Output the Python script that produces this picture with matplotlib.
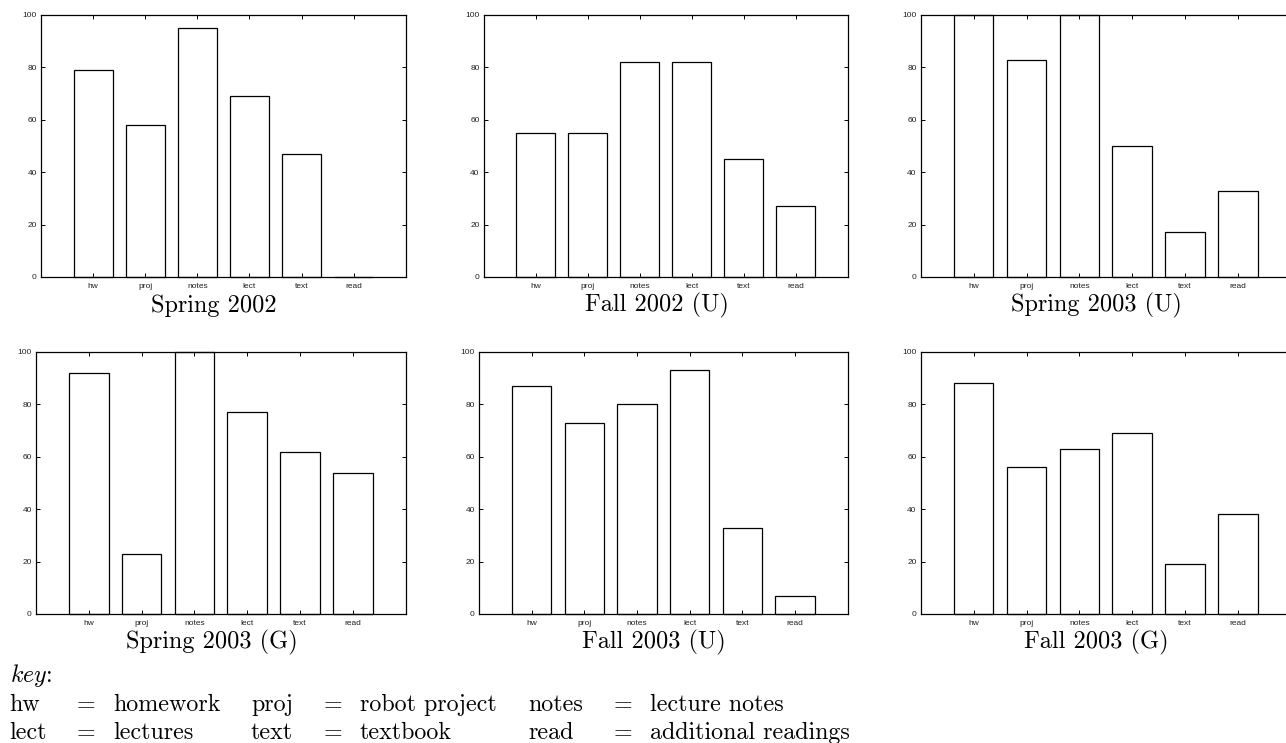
"""Six small bar panels (gnuplot look) of course-resource usage by term, plus key."""

import matplotlib
matplotlib.use("Agg")
import matplotlib.pyplot as plt

CATEGORIES = ["hw", "proj", "notes", "lect", "text", "read"]

SPRING_2002 = [79, 58, 95, 69, 47, 0]
FALL_2002_U = [55, 55, 82, 82, 45, 27]
SPRING_2003_U = [100, 83, 100, 50, 17, 33]
SPRING_2003_G = [92, 23, 100, 77, 62, 54]
FALL_2003_U = [87, 73, 80, 93, 33, 7]
FALL_2003_G = [88, 56, 63, 69, 19, 38]

TITLES = ["Spring 2002", "Fall 2002 (U)", "Spring 2003 (U)",
          "Spring 2003 (G)", "Fall 2003 (U)", "Fall 2003 (G)"]
SERIES = [SPRING_2002, FALL_2002_U, SPRING_2003_U,
          SPRING_2003_G, FALL_2003_U, FALL_2003_G]

KEY_ROWS = [
    [("hw", "homework"), ("proj", "robot project"), ("notes", "lecture notes")],
    [("lect", "lectures"), ("text", "textbook"), ("read", "additional readings")],
]

plt.rcParams["mathtext.fontset"] = "cm"

W, H = 1286, 743
fig = plt.figure(figsize=(W / 100, H / 100), dpi=100)

# panel boxes in pixels: left, right, top, bottom
boxes = [
    (41, 405.7, 15, 277), (483.7, 847.7, 15, 277), (920.7, 1291, 15, 277),
    (36, 405.7, 352, 614), (479, 847.7, 352, 614), (920.7, 1291, 352, 614),
]

xs = list(range(1, len(CATEGORIES) + 1))
lw = 0.9

for (l, r, t, b), vals, title in zip(boxes, SERIES, TITLES):
    ax = fig.add_axes([l / W, 1 - b / H, (r - l) / W, (b - t) / H])
    ax.bar(xs, vals, width=0.75, facecolor="white", edgecolor="black",
           linewidth=lw, clip_on=False)
    ax.set_xlim(0, 7)
    ax.set_ylim(0, 100)
    ax.set_xticks(xs)
    ax.set_xticklabels(CATEGORIES, family="Liberation Sans", fontsize=6)
    ax.set_yticks(range(0, 101, 20))
    ax.set_yticklabels([str(v) for v in range(0, 101, 20)],
                       family="Liberation Sans", fontsize=6)
    ax.tick_params(direction="in", length=3, width=0.7, top=True, right=True,
                   pad=3, colors="black", labelcolor="#222222")
    ax.tick_params(axis="x", pad=4)
    for s in ax.spines.values():
        s.set_linewidth(lw)
    ax.text(0.475, -0.11, title, transform=ax.transAxes, ha="center",
            va="center", family="cmr10", fontsize=17.5)

# key block under the panels (a LaTeX-like tabular)
fs = 17.3
abbr_x = [9, 251, 528]
eq_x = [77, 324, 614]
word_gap = 36
fig.text(10 / W, 1 - 682 / H, r"$\mathit{key}$:", family="cmr10",
         fontsize=fs, va="baseline", ha="left")
for row, y in zip(KEY_ROWS, [711, 739]):
    for (abbr, desc), ax_, ex in zip(row, abbr_x, eq_x):
        fig.text(ax_ / W, 1 - y / H, abbr, family="cmr10",
                 fontsize=fs, va="baseline", ha="left")
        fig.text(ex / W, 1 - y / H, "=", family="cmr10",
                 fontsize=fs, va="baseline", ha="left")
        fig.text((ex + word_gap) / W, 1 - y / H, desc, family="cmr10",
                 fontsize=fs, va="baseline", ha="left")

fig.savefig("out.png", dpi=100)
